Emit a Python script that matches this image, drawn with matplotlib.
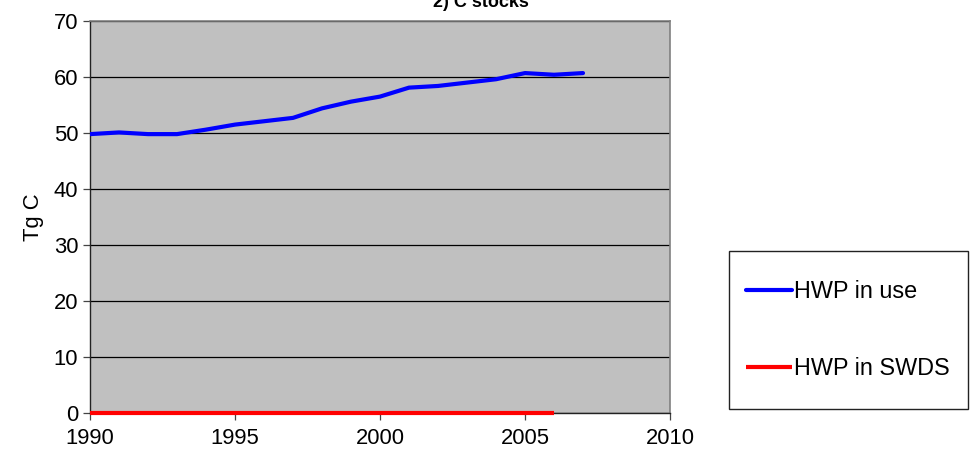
import matplotlib
matplotlib.use("Agg")
import matplotlib.pyplot as plt
from matplotlib.patches import Rectangle

plt.rcParams['font.family'] = ['Liberation Sans', 'DejaVu Sans']

# data
years_use = list(range(1990, 2008))
hwp_in_use = [49.8, 50.1, 49.8, 49.8, 50.6, 51.5, 52.1, 52.7, 54.4, 55.6,
              56.5, 58.1, 58.4, 59.0, 59.6, 60.7, 60.4, 60.7]
years_swds = list(range(1990, 2007))
hwp_in_swds = [0.0] * len(years_swds)

series_names = ['HWP in use', 'HWP in SWDS']
title = '2) C stocks'
ylabel = 'Tg C'

fig = plt.figure(figsize=(9.71, 4.58), dpi=100)
ax = fig.add_axes([90 / 971, 1 - 413 / 458, 580 / 971, 392 / 458])
ax.set_facecolor('#c0c0c0')

ax.plot(years_use, hwp_in_use, color='#0000ff', lw=3, label=series_names[0],
        solid_capstyle='round', zorder=3)
ax.plot(years_swds, hwp_in_swds, color='#ff0000', lw=3, label=series_names[1],
        solid_capstyle='butt', clip_on=False, zorder=3)

ax.set_xlim(1990, 2010)
ax.set_ylim(0, 70)
ax.set_xticks(range(1990, 2011, 5))
ax.set_yticks(range(0, 71, 10))
ax.yaxis.grid(True, color='black', lw=0.9)
ax.set_axisbelow(True)
ax.tick_params(labelsize=15.8, length=5, width=0.9, color='#444444', direction='out')
ax.tick_params(axis='x', pad=6)

for s in ['top', 'right']:
    ax.spines[s].set_color('#808080')
    ax.spines[s].set_linewidth(1.2)
for s in ['left', 'bottom']:
    ax.spines[s].set_color('#222222')
    ax.spines[s].set_linewidth(1.0)

ax.set_ylabel(ylabel, fontsize=15.8, labelpad=7)

fig.text(481 / 971, 1 - 7 / 458, title, ha='center', va='baseline',
         fontsize=13, fontweight='bold')

# legend box
fig.patches.append(Rectangle((729 / 971, 1 - 409 / 458), 239 / 971, 158 / 458,
                             transform=fig.transFigure, facecolor='white',
                             edgecolor='#222222', lw=1))
handles, labels = ax.get_legend_handles_labels()
fig.legend(handles, labels, loc='center left', bbox_to_anchor=(746 / 971, 1 - 330 / 458),
           frameon=False, fontsize=16.8, handlelength=1.95, handletextpad=0.1,
           labelspacing=2.3, borderpad=0, borderaxespad=0)

fig.savefig('out.png', dpi=100)
